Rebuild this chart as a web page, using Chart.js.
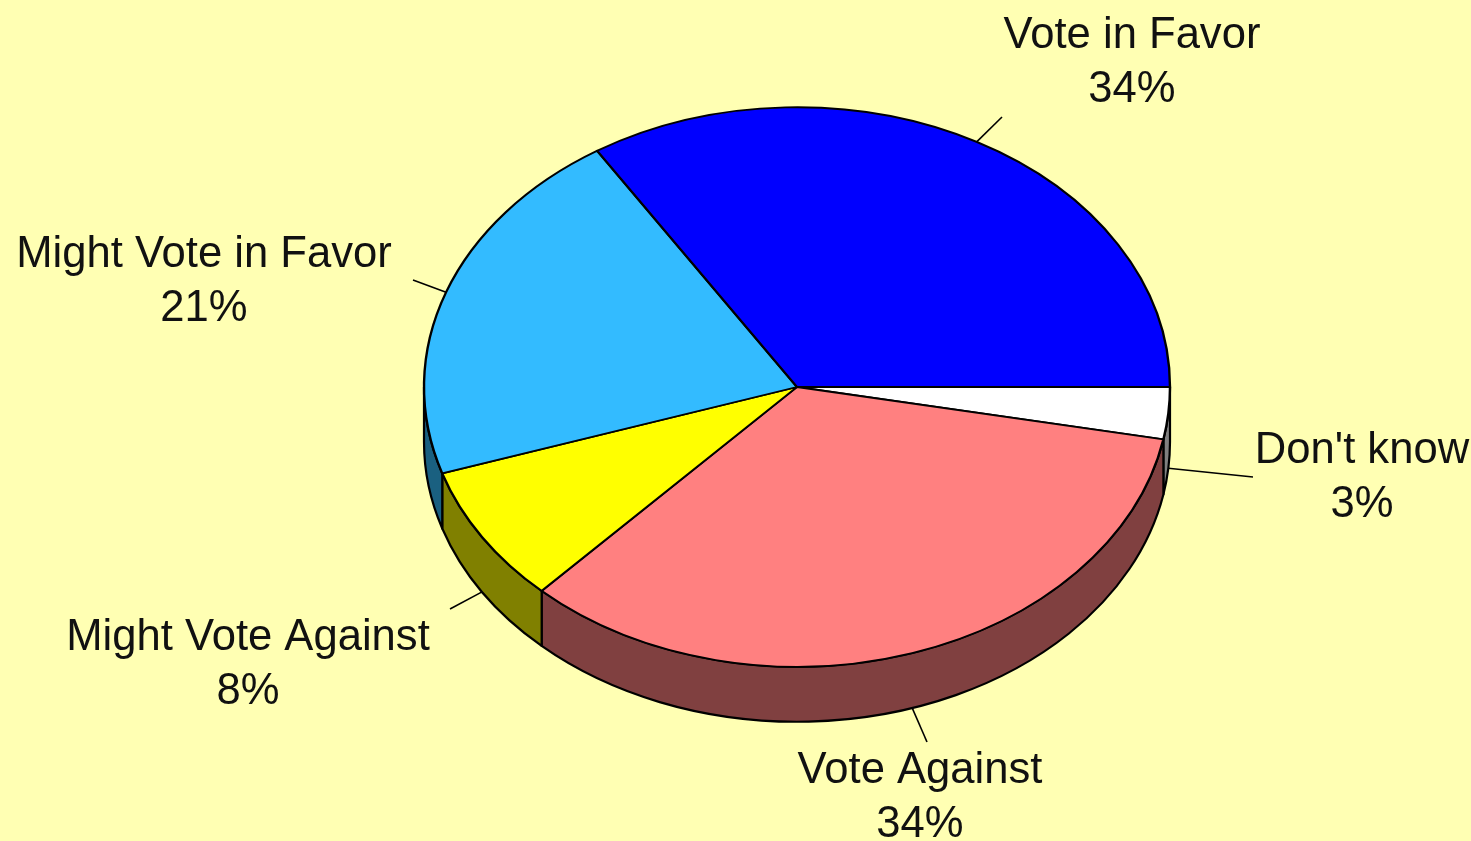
<!DOCTYPE html>
<html>
<head>
<meta charset="utf-8">
<script src="https://cdn.jsdelivr.net/npm/chart.js@4.4.0/dist/chart.umd.min.js"></script>
<style>
  html, body { margin: 0; padding: 0; background: #FFFFB3; }
  #wrap { width: 1471px; height: 841px; position: relative; }
  canvas { display: block; }
</style>
</head>
<body>
<div id="wrap"><canvas id="c" width="1471" height="841"></canvas></div>
<script>
// Survey answers, listed clockwise starting from the 3 o'clock position
const categories = ["Don't know", "Vote Against", "Might Vote Against", "Might Vote in Favor", "Vote in Favor"];
const shares = [3, 34, 8, 21, 34];

// Face colours and the darker shades used for the rim of each slice
const topColors  = ['#FFFFFF', '#FF8080', '#FFFF00', '#33BBFF', '#0000FF'];
const sideColors = ['#808080', '#804040', '#808000', '#1A6080', '#000080'];

// Where each label block sits (centre x, first baseline) and where its leader line ends
const labelLayout = [
  { x: 1362, y: 463, lx: 1253, ly: 477 },
  { x: 920,  y: 783, lx: 927,  ly: 742 },
  { x: 248,  y: 650, lx: 450,  ly: 609 },
  { x: 204,  y: 267, lx: 413,  ly: 280 },
  { x: 1132, y: 48,  lx: 1002, ly: 117 }
];

const TILT = 0.75;   // vertical squash of the pie face
const DEPTH = 55;    // thickness of the rim in pixels
const LINE_GAP = 54; // distance between the two label lines
const FONT = '43.6px "Liberation Sans", Arial, sans-serif';

const pie3d = {
  id: 'pie3d',
  beforeDatasetsDraw(chart) {
    const ctx = chart.ctx;
    const arcs = chart.getDatasetMeta(0).data;
    const cx = arcs[0].x, cy = arcs[0].y, r = arcs[0].outerRadius, ry = r * TILT;

    // rim: only the front half (angles 0..PI) is visible
    ctx.save();
    arcs.forEach((arc, i) => {
      const a1 = Math.max(arc.startAngle, 0);
      const a2 = Math.min(arc.endAngle, Math.PI);
      if (a2 <= a1) return;
      ctx.beginPath();
      ctx.ellipse(cx, cy, r, ry, 0, a1, a2);
      ctx.lineTo(cx + r * Math.cos(a2), cy + ry * Math.sin(a2) + DEPTH);
      ctx.ellipse(cx, cy + DEPTH, r, ry, 0, a2, a1, true);
      ctx.closePath();
      ctx.fillStyle = sideColors[i];
      ctx.fill();
      ctx.lineWidth = 2.2;
      ctx.strokeStyle = '#000';
      ctx.lineJoin = 'round';
      ctx.stroke();
    });
    ctx.restore();

    // squash the face of the pie into an ellipse
    ctx.save();
    ctx.translate(cx, cy);
    ctx.scale(1, TILT);
    ctx.translate(-cx, -cy);
  },
  afterDatasetsDraw(chart) {
    chart.ctx.restore();
  },
  afterDraw(chart) {
    const ctx = chart.ctx;
    const arcs = chart.getDatasetMeta(0).data;
    const cx = arcs[0].x, cy = arcs[0].y, r = arcs[0].outerRadius, ry = r * TILT;
    ctx.save();
    arcs.forEach((arc, i) => {
      const mid = (arc.startAngle + arc.endAngle) / 2;
      const s = Math.sin(mid);
      const px = cx + r * Math.cos(mid);
      const py = cy + ry * s + (s > 0 ? DEPTH : 0);
      const L = labelLayout[i];
      ctx.beginPath();
      ctx.moveTo(px, py);
      ctx.lineTo(L.lx, L.ly);
      ctx.lineWidth = 1.6;
      ctx.strokeStyle = '#000';
      ctx.stroke();

      ctx.font = FONT;
      ctx.fillStyle = '#111';
      ctx.textAlign = 'center';
      ctx.textBaseline = 'alphabetic';
      ctx.fillText(categories[i], L.x, L.y);
      ctx.fillText(shares[i] + '%', L.x, L.y + LINE_GAP);
    });
    ctx.restore();
  }
};

new Chart(document.getElementById('c'), {
  type: 'pie',
  data: {
    labels: categories,
    datasets: [{
      data: shares,
      backgroundColor: topColors,
      borderColor: '#000',
      borderWidth: 2.4,
      borderJoinStyle: 'round',
      radius: 373
    }]
  },
  options: {
    responsive: false,
    animation: false,
    events: [],
    rotation: 90,
    layout: { padding: { left: 424, right: 301, top: 14, bottom: 81 } },
    plugins: {
      legend: { display: false },
      tooltip: { enabled: false }
    }
  },
  plugins: [pie3d]
});
</script>
</body>
</html>
